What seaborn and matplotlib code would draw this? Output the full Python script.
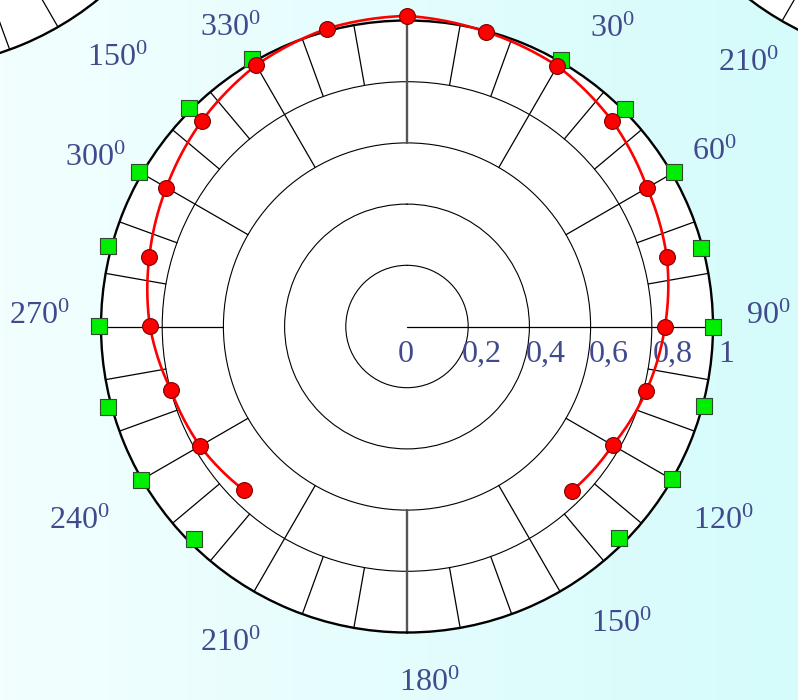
import numpy as np
import pandas as pd
import matplotlib
matplotlib.use("Agg")
import matplotlib.pyplot as plt
import seaborn as sns
from matplotlib.colors import LinearSegmentedColormap

# ---------------- data ----------------
measured_angles_deg = [-135, -120, -105, -90, -75, -60, -45, -30, -15, 0,
                       15, 30, 45, 60, 75, 90, 105, 120, 135]
measured_r = [0.755, 0.781, 0.799, 0.840, 0.872, 0.908, 0.949, 0.986, 1.008, 1.015,
              0.997, 0.983, 0.949, 0.906, 0.879, 0.843, 0.810, 0.776, 0.761]

reference_angles_deg = [-135, -120, -105, -90, -75, -60, -45, -30,
                        30, 45, 60, 75, 90, 105, 120, 135]
reference_r = [0.983, 1.003, 1.012, 1.007, 1.012, 1.011, 1.009, 1.011,
               1.006, 1.006, 1.009, 0.994, 1.000, 1.004, 1.000, 0.979]

ring_values = [0.2, 0.4, 0.6, 0.8]
radial_tick_values = [0, 0.2, 0.4, 0.6, 0.8, 1.0]
radial_tick_labels = ["0", "0,2", "0,4", "0,6", "0,8", "1"]
angle_tick_labels = ["30", "60", "90", "120", "150", "180", "210", "240", "270", "300", "330"]
neighbor_left_label = "150"
neighbor_right_label = "210"

# ---------------- layout ----------------
W, H = 798, 700
R = 306                       # radius of a chart in pixels
main_center = (407, 326.5)
left_center = (-95, -238)
right_center = (935, -244)
angle_label_px = [(612, 29), (714, 152), (768, 316), (723, 521), (621, 624), (429, 683),
                  (230, 643), (79, 521), (39, 316), (95, 158), (230, 28)]
neighbor_left_px = (117, 58)
neighbor_right_px = (748, 63)
radial_label_dx = [-1, 14, 16, 18, 21, 13]
radial_label_dy = -27.5
text_color = "#414a8c"
font_size = 23

sns.set_theme(style="white")
plt.rcParams["font.family"] = ["Liberation Serif", "DejaVu Serif"]
plt.rcParams["mathtext.fontset"] = "custom"
plt.rcParams["mathtext.rm"] = "Liberation Serif"
plt.rcParams["mathtext.it"] = "Liberation Serif:italic"
plt.rcParams["mathtext.bf"] = "Liberation Serif:bold"

fig = plt.figure(figsize=(W / 100, H / 100), dpi=100)

# background gradient
bg = fig.add_axes([0, 0, 1, 1], zorder=-10)
cmap = LinearSegmentedColormap.from_list("bg", ["#f3ffff", "#d5fbfb"])
bg.imshow(np.linspace(0, 1, 256)[None, :], aspect="auto", cmap=cmap, extent=[0, 1, 0, 1])
bg.set_axis_off()


def polar_frame(center):
    cx, cy = center
    ax = fig.add_axes([(cx - R) / W, (H - cy - R) / H, 2 * R / W, 2 * R / H],
                      projection="polar")
    ax.set_theta_zero_location("N")
    ax.set_theta_direction(-1)
    ax.set_facecolor("white")
    ax.spines["polar"].set_linewidth(1.7)
    ax.spines["polar"].set_color("black")
    # minor spokes every 10 degrees on the outer band
    for d in range(0, 360, 10):
        if d % 30:
            ax.plot([np.deg2rad(d)] * 2, [0.8, 1.0], color="black", lw=0.9, zorder=1)
    # major spokes every 30 degrees
    for d in range(0, 360, 30):
        if d in (0, 180):
            ax.plot([np.deg2rad(d)] * 2, [0.6, 1.0], color="#555555", lw=1.7, zorder=1)
        elif d == 90:
            ax.plot([np.deg2rad(d)] * 2, [0.0, 1.0], color="black", lw=0.9, zorder=1)
        else:
            ax.plot([np.deg2rad(d)] * 2, [0.6, 1.0], color="black", lw=0.9, zorder=1)
    return ax


def finish(ax):
    ax.set_ylim(0, 1)
    ax.set_xticks([])
    ax.set_yticks(ring_values)
    ax.set_yticklabels([])
    ax.yaxis.grid(True, color="black", lw=0.8)
    ax.xaxis.grid(False)
    ax.set_xlabel("")
    ax.set_ylabel("")


# neighbouring charts (partially visible at the top corners)
for c in (left_center, right_center):
    finish(polar_frame(c))

# main chart
ax = polar_frame(main_center)
n_frame_lines = len(ax.lines)
df_meas = pd.DataFrame({"theta": np.deg2rad(measured_angles_deg), "r": measured_r})
df_ref = pd.DataFrame({"theta": np.deg2rad(reference_angles_deg), "r": reference_r})

sns.lineplot(data=df_meas, x="theta", y="r", ax=ax, color="red", lw=1.9,
             sort=False, zorder=4)
# let the polar transform draw the curve as arcs between the measured points
for ln in ax.lines[n_frame_lines:]:
    ln.get_path()._interpolation_steps = 40
    ln.set_solid_joinstyle("round")
sns.scatterplot(data=df_ref, x="theta", y="r", ax=ax, marker="s", s=130,
                color="#00ee00", edgecolor="#2f4a2f", linewidth=0.8, zorder=5)
sns.scatterplot(data=df_meas, x="theta", y="r", ax=ax, marker="o", s=130,
                color="red", edgecolor="#7a0000", linewidth=0.8, zorder=6)
for art in list(ax.lines) + list(ax.collections):
    art.set_clip_on(False)
finish(ax)

# radial labels
for v, lab, dx in zip(radial_tick_values, radial_tick_labels, radial_label_dx):
    ax.annotate(lab, xy=(np.pi / 2, v), xytext=(dx, radial_label_dy),
                textcoords="offset pixels", ha="center", va="center",
                fontsize=font_size, color=text_color, annotation_clip=False)


def px_text(pos, lab):
    x, y = pos
    fig.text(x / W, 1 - y / H, "$\\mathregular{" + lab + "^0}$", ha="center",
             va="center", fontsize=font_size, color=text_color)


for lab, pos in zip(angle_tick_labels, angle_label_px):
    px_text(pos, lab)
px_text(neighbor_left_px, neighbor_left_label)
px_text(neighbor_right_px, neighbor_right_label)

fig.savefig("out.png", dpi=100)
